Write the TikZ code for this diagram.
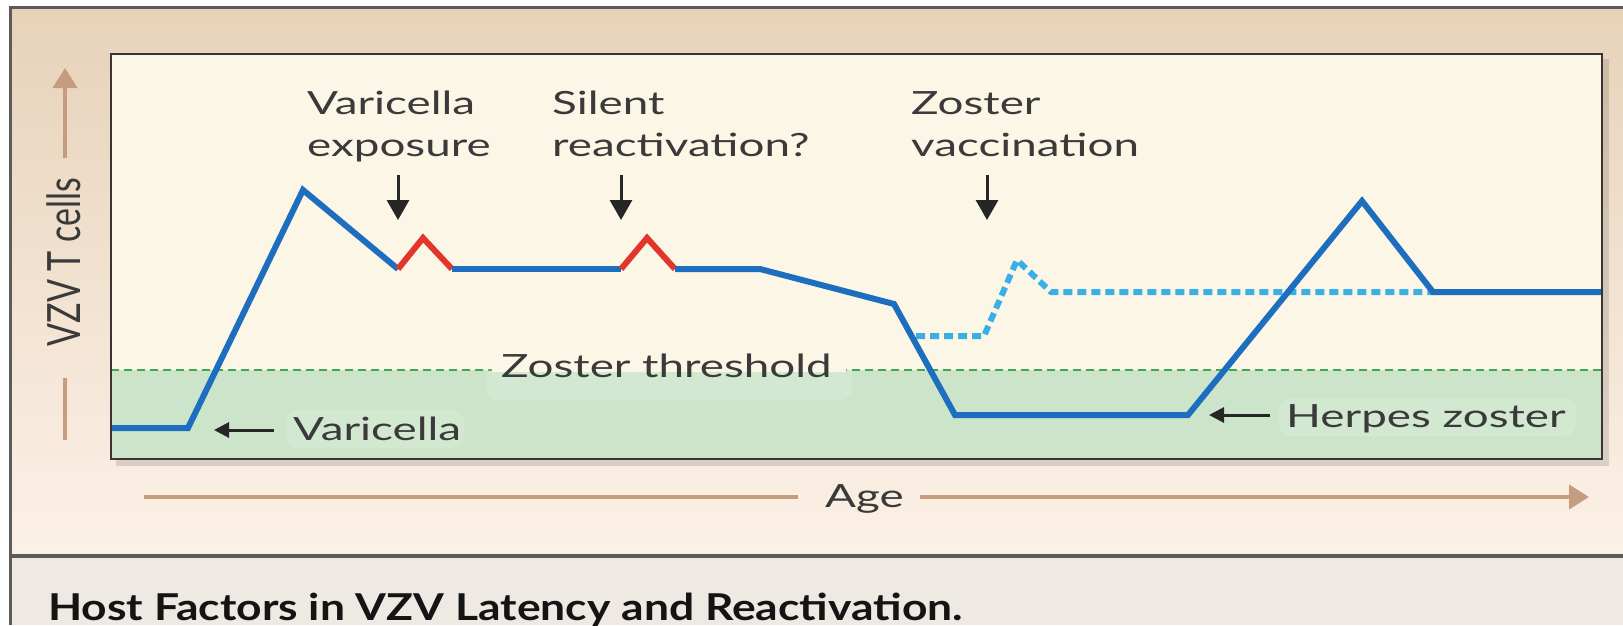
\documentclass[tikz,border=0pt]{standalone}
\usepackage{fontspec}
\setmainfont{Lato}[FakeStretch=1.43]
\newfontfamily\plainfont{Lato}
\newfontfamily\capfont{Lato}[FakeStretch=1.2]
\usetikzlibrary{arrows.meta}
\definecolor{bgtop}{HTML}{E7D2B9}
\definecolor{bgbot}{HTML}{FCF1E7}
\definecolor{capbg}{HTML}{EEE9E3}
\definecolor{framegray}{HTML}{5C5C5C}
\definecolor{plotbg}{HTML}{FCF6E7}
\definecolor{zgreen}{HTML}{CCE5CA}
\definecolor{thrgreen}{HTML}{3FA852}
\definecolor{cblue}{HTML}{1E6EC0}
\definecolor{cred}{HTML}{E2352C}
\definecolor{lblue}{HTML}{3AAEE6}
\definecolor{tan}{HTML}{C59C80}
\definecolor{txt}{HTML}{3A3A3A}
\definecolor{boxline}{HTML}{3B3432}
\begin{document}
\begin{tikzpicture}[x=1pt,y=-1pt,
  lbl/.style={font=\fontsize{32}{42}\selectfont, text=txt, inner sep=0pt, anchor=base west},
  bcurve/.style={line width=6pt, color=cblue},
  rcurve/.style={line width=6pt, color=cred},
  dcurve/.style={line width=6pt, color=lblue, dash pattern=on 9pt off 5pt},
  darr/.style={line width=3pt, color=black!85, -{Triangle[length=20pt,width=22pt]}},
  larr/.style={line width=3pt, color=black!85, -{Triangle[length=15pt,width=15pt]}},
  axline/.style={line width=4pt, color=tan},
  axarr/.style={line width=4pt, color=tan, -{Triangle[length=20pt,width=24pt]}},
  thr/.style={line width=2pt, color=thrgreen, dash pattern=on 8pt off 5pt},
  glow/.style={fill=white, fill opacity=0.12, rounded corners=12pt}]
\useasboundingbox (0,0) rectangle (1623,625);
\fill[white] (0,0) rectangle (1623,625);
% outer panel
\shade[top color=bgtop, bottom color=bgbot] (10,7) rectangle (1623,556);
\fill[capbg] (10,556) rectangle (1623,625);
\draw[framegray, line width=3pt] (1623,7) -- (10,7) -- (10,625);
\draw[framegray, line width=4pt] (10,556) -- (1623,556);
% plot box
\fill[black, opacity=0.12] (116,59) rectangle (1609,466);
\fill[plotbg] (111,54) rectangle (1602,459);
\fill[zgreen] (111,370) rectangle (1602,459);
\draw[thr] (111,370) -- (1602,370);
% threshold label glow
\fill[glow] (486,352) rectangle (852,400);
\fill[plotbg] (492,350) rectangle (846,372);
\node[lbl] (thrlbl) at (501,377) {Zoster threshold};
% lower label glows
\fill[glow] (286,410) rectangle (464,448);
\fill[glow] (1279,398) rectangle (1576,436);
% curves
\draw[dcurve] (916,336) -- (984,336) -- (1017,260) -- (1051,292) -- (1433,292);
\draw[bcurve] (111,428) -- (188,428) -- (303,190) -- (398,269);
\draw[rcurve] (398,269) -- (423,238) -- (452,269);
\draw[bcurve] (452,269) -- (621,269);
\draw[rcurve] (621,269) -- (647,238) -- (675,269);
\draw[bcurve] (675,269) -- (760,269) -- (894,304) -- (955,415) -- (1188,415) -- (1362,201) -- (1433,292) -- (1602,292);
\draw[boxline, line width=2pt] (111,54) rectangle (1602,459);
% top labels
\node[lbl] (ve1) at (307,114) {Varicella};
\node[lbl] (ve2) at (307,156) {exposure};
\node[lbl] (sr1) at (552,114) {Silent};
\node[lbl] (sr2) at (552,156) {reactivation?};
\node[lbl] (zv1) at (911,114) {Zoster};
\node[lbl] (zv2) at (911,156) {vaccination};
\coordinate (a1s) at (398,175); \coordinate (a1e) at (398,220);
\coordinate (a2s) at (621,175); \coordinate (a2e) at (621,220);
\coordinate (a3s) at (987,175); \coordinate (a3e) at (987,220);
\draw[darr] (a1s) -- (a1e);
\draw[darr] (a2s) -- (a2e);
\draw[darr] (a3s) -- (a3e);
% lower labels
\node[lbl] (var) at (293,440) {Varicella};
\coordinate (v1s) at (274,430); \coordinate (v1e) at (214,430);
\draw[larr] (v1s) -- (v1e);
\node[lbl] (hz) at (1286,427) {Herpes zoster};
\coordinate (h1s) at (1270,415); \coordinate (h1e) at (1209,415);
\draw[larr] (h1s) -- (h1e);
% axes
\coordinate (ya) at (65,158); \coordinate (yb) at (65,68);
\draw[axarr] (ya) -- (yb);
\coordinate (yc) at (65,378); \coordinate (yd) at (65,440);
\draw[axline] (yc) -- (yd);
\node[rotate=90, inner sep=0pt, text=txt, font=\plainfont\fontsize{34}{40}\selectfont] (ylbl) at (64,262) {\scalebox{1}[1.35]{VZV T cells}};
\coordinate (xa) at (144,497); \coordinate (xb) at (798,497);
\draw[axline] (xa) -- (xb);
\node[lbl] (age) at (825,507) {Age};
\coordinate (xc) at (920,497); \coordinate (xd) at (1589,497);
\draw[axarr] (xc) -- (xd);
% caption
\node[inner sep=0pt, anchor=base west, text=black!92, font=\capfont\bfseries\fontsize{37}{40}\selectfont] (cap) at (48,620) {Host Factors in VZV Latency and Reactivation.};
\end{tikzpicture}
\end{document}
